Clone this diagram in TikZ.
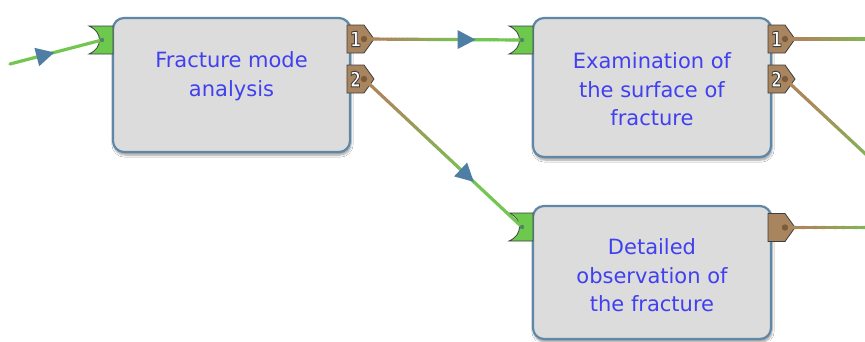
\documentclass[tikz,border=0pt]{standalone}
\usepackage{fontspec}
\setmainfont{DejaVu Sans}
\usetikzlibrary{calc,decorations.markings,shadows.blur}

\definecolor{boxfill}{HTML}{DCDCDC}
\definecolor{boxline}{HTML}{5F87A8}
\definecolor{textblue}{HTML}{4040F0}
\definecolor{portgreen}{HTML}{6DC94D}
\definecolor{portbrown}{HTML}{A8855E}
\definecolor{portline}{HTML}{3E3E3E}
\definecolor{arrowc}{HTML}{4F7EA5}
\definecolor{lgreen}{HTML}{74C652}
\definecolor{lbrown}{HTML}{AD875C}
\definecolor{dotc}{HTML}{6A4E30}

\tikzset{
  box/.style={draw=boxline, line width=2.2pt, fill=boxfill, rounded corners=11pt,
    blur shadow={shadow xshift=1pt, shadow yshift=-3pt, shadow blur steps=6, shadow opacity=40}},
  lbl/.style={font=\fontsize{21}{28.5}\selectfont, text=textblue, align=center, inner sep=0pt},
  conn/.style={line width=3.2pt, line cap=round},
  portshape/.style={draw=portline, line width=0.8pt},
  numlbl/.style={font=\bfseries\fontsize{21}{21}\selectfont, text=white, inner sep=0pt},
  marker/.style={postaction={decorate}, decoration={markings,
    mark=at position #1 with {\fill[arrowc] (1pt,0pt) -- (-17pt,9.5pt) -- (-17pt,-9.5pt) -- cycle;}}}
}

% outlined white text: fill and stroke render mode
\newcommand\outlined[1]{\special{pdf:literal direct 2 Tr 1.0 w 0.24 0.24 0.24 RG}#1\special{pdf:literal direct 0 Tr}}

% gradient connector: from, to, speed factor
\newcommand\gradline[3]{%
  \foreach \i in {0,...,39}{%
    \pgfmathtruncatemacro\p{max(0,min(100,#3*(\i/40-0.12)*100))}%
    \draw[conn, color=lgreen!\p!lbrown] ($(#1)!{\i/40}!(#2)$) -- ($(#1)!{(\i+1)/40}!(#2)$);
  }}

% input port: shift = (box left edge, center y)
\newcommand\inport[2]{%
  \begin{scope}[shift={(#1,#2)}]
    \filldraw[fill=portgreen, portshape] (-24,-14) -- (0,-14) -- (0,14) -- (-24,14)
      .. controls (-10,8) and (-10,-8) .. (-24,-14) -- cycle;
  \end{scope}}

% output port: shape only
\newcommand\outport[2]{%
  \begin{scope}[shift={(#1,#2)}]
    \filldraw[fill=portbrown, portshape] (0,-14) -- (17,-14) -- (27,0) -- (17,14) -- (0,14) -- cycle;
  \end{scope}}

\begin{document}
\begin{tikzpicture}[x=1pt,y=-1pt]
\useasboundingbox (0,0) rectangle (865,341);
\fill[white] (0,0) rectangle (865,341);
\clip (0,0) rectangle (865,341);

% boxes
\node[box, minimum width=237pt, minimum height=134pt] (b1) at (231.5,85) {};
\node[box, minimum width=238pt, minimum height=139pt] (b2) at (652,87.5) {};
\node[box, minimum width=238pt, minimum height=133pt] (b3) at (652,272.5) {};

\node[lbl] (t1) at (231.5,76) {Fracture mode\\analysis};
\node[lbl] (t2) at (652,89.5) {Examination of\\the surface of\\fracture};
\node[lbl] (t3) at (652,275.5) {Detailed\\observation of\\the fracture};

% ports
\inport{113}{40}
\inport{533}{40}
\inport{533}{227}
\outport{347}{39}
\outport{347}{79}
\outport{768}{39}
\outport{768}{79}
\outport{768}{227.5}

% connector end points
\coordinate (s0) at (10,64);
\coordinate (i1) at (102,40);
\coordinate (i2) at (522,40);
\coordinate (i3) at (522,227);
\coordinate (o11) at (364,39);
\coordinate (o12) at (364,79);
\coordinate (o21) at (785,39);
\coordinate (o22) at (785,79);
\coordinate (o31) at (785,227.5);
\coordinate (x21) at (946,39);
\coordinate (x22) at (946,229);
\coordinate (x31) at (946,227.5);

% connectors
\draw[conn, color=lgreen] (s0) -- (i1);
\gradline{o11}{i2}{2.0}
\gradline{o12}{i3}{1.8}
\gradline{o21}{x21}{2.0}
\gradline{o22}{x22}{1.8}
\gradline{o31}{x31}{2.0}

% arrow markers
\path[marker=0.47] (s0) -- (i1);
\path[marker=0.70] (o11) -- (i2);
\path[marker=0.69] (o12) -- (i3);

% dots
\foreach \c in {o11,o12,o21,o22,o31}{\fill[dotc, opacity=0.75] (\c) circle (3.2pt);}
\foreach \c in {i1,i2,i3}{\fill[arrowc!70!black, opacity=0.6] (\c) circle (2.2pt);}

% port numbers
\node[numlbl] (n11) at (355.5,39) {\outlined{\scalebox{0.75}[1]{1}}};
\node[numlbl] (n12) at (355.5,79) {\outlined{\scalebox{0.75}[1]{2}}};
\node[numlbl] (n21) at (776.5,39) {\outlined{\scalebox{0.75}[1]{1}}};
\node[numlbl] (n22) at (776.5,79) {\outlined{\scalebox{0.75}[1]{2}}};
\end{tikzpicture}
\end{document}
